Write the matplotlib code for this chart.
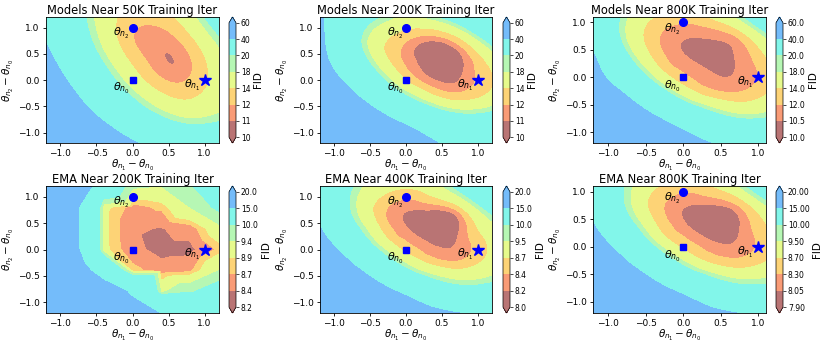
import numpy as np
import matplotlib
matplotlib.use('Agg')
import matplotlib.pyplot as plt
import matplotlib.tri as mtri
from matplotlib.colors import ListedColormap, BoundaryNorm

W, H = 830, 346
band_colors = ['#b97474', '#f99b76', '#fdd376', '#e6fa8c', '#b6f7b4', '#82f6ea', '#74bcfa']

titles = ['Models Near 50K Training Iter', 'Models Near 200K Training Iter', 'Models Near 800K Training Iter',
          'EMA Near 200K Training Iter', 'EMA Near 400K Training Iter', 'EMA Near 800K Training Iter']
levels = [[10, 11, 12, 14, 18, 20, 40, 60],
          [10, 11, 12, 14, 18, 20, 40, 60],
          [10, 10.5, 12, 14, 18, 20, 40, 60],
          [8.2, 8.4, 8.7, 8.9, 9.4, 10, 15, 20],
          [8.0, 8.2, 8.4, 8.7, 9.5, 10, 15, 20],
          [7.9, 8.05, 8.3, 8.7, 9.5, 10, 15, 20]]
fmts = ['%d', '%d', '%.1f', '%.1f', '%.1f', '%.2f']
spans = [(-1.2, 1.2), (-1.2, 1.2), (-1.2, 1.1), (-1.2, 1.2), (-1.2, 1.2), (-1.2, 1.1)]
smooth = [True, True, True, False, True, True]

# FID sampled on the interpolation plane, x = y = grid
# rows go from top (y=1.2) to bottom (y=-1.2), columns x=-1.2..1.2
grid = [-1.2, -0.8, -0.4, 0.0, 0.4, 0.8, 1.2]

fid_models_50k = [
    [35.2, 23.5, 15.9, 12.9, 13.0, 16.5, 24.5],
    [38.9, 25.7, 16.6, 12.1, 11.3, 13.5, 19.5],
    [44.1, 29.9, 19.2, 13.3, 11.1, 11.9, 16.5],
    [50.9, 35.9, 23.8, 15.9, 12.2, 12.2, 15.4],
    [59.7, 43.7, 30.5, 21.0, 15.6, 14.2, 16.3],
    [71.3, 53.9, 40.3, 29.3, 22.2, 19.1, 20.1],
    [86.7, 68.1, 53.0, 41.7, 33.3, 28.8, 28.2],
]
fid_models_200k = [
    [42.0, 27.6, 20.4, 17.3, 19.3, 25.6, 36.3],
    [43.0, 25.3, 15.7, 12.4, 11.5, 14.7, 23.5],
    [45.0, 28.3, 16.5, 11.6, 10.3, 11.0, 15.6],
    [50.2, 36.5, 23.0, 13.9, 11.0, 11.2, 13.7],
    [61.2, 47.0, 34.3, 23.2, 16.2, 14.1, 16.2],
    [75.9, 60.3, 47.7, 37.7, 28.9, 24.6, 24.7],
    [94.4, 77.2, 63.2, 52.4, 41.0, 35.5, 33.0],
]
fid_models_800k = [
    [30.8, 19.9, 14.8, 13.8, 15.9, 22.7, 35.0],
    [31.8, 18.6, 12.7, 10.9, 11.2, 13.8, 22.1],
    [41.0, 22.4, 13.5, 10.6, 9.9, 11.2, 15.3],
    [45.3, 31.4, 18.2, 12.5, 10.7, 11.0, 13.6],
    [54.8, 43.2, 30.0, 19.1, 14.3, 13.3, 15.3],
    [67.2, 54.3, 44.0, 33.8, 25.2, 21.2, 21.9],
    [82.6, 68.3, 56.7, 47.8, 39.5, 36.4, 34.8],
]
fid_ema_200k = [
    [20.0, 20.0, 11.5, 9.50, 9.40, 9.90, 11.0],
    [20.0, 16.0, 9.00, 8.60, 8.75, 9.40, 10.2],
    [20.0, 16.0, 9.00, 8.45, 8.38, 8.55, 9.20],
    [20.0, 16.0, 9.00, 8.50, 8.28, 8.30, 8.75],
    [21.0, 18.0, 12.5, 8.80, 8.55, 8.64, 9.40],
    [22.0, 20.0, 18.0, 14.3, 9.30, 9.90, 10.6],
    [24.0, 22.0, 20.0, 17.0, 14.8, 12.5, 11.5],
]
fid_ema_400k = [
    [13.20, 10.33, 9.03, 8.78, 9.20, 10.94, 14.11],
    [13.53, 10.06, 8.59, 8.25, 8.29, 8.80, 10.81],
    [15.12, 11.12, 8.80, 8.22, 7.96, 8.29, 9.14],
    [16.99, 13.53, 10.06, 8.59, 8.25, 8.29, 8.80],
    [19.69, 16.41, 13.20, 10.33, 9.03, 8.78, 9.20],
    [23.22, 19.57, 16.67, 14.22, 11.95, 10.89, 11.04],
    [27.58, 23.56, 20.28, 17.75, 15.97, 14.91, 14.46],
]
fid_ema_800k = [
    [13.11, 10.21, 8.92, 8.63, 8.95, 10.33, 13.28],
    [13.53, 10.05, 8.54, 8.11, 8.12, 8.58, 10.20],
    [15.15, 11.19, 8.82, 8.10, 7.80, 8.12, 8.88],
    [16.91, 13.64, 10.15, 8.59, 8.14, 8.15, 8.63],
    [19.43, 16.38, 13.31, 10.41, 9.03, 8.73, 9.07],
    [22.70, 19.32, 16.61, 14.29, 11.97, 10.83, 10.86],
    [26.73, 23.00, 19.96, 17.75, 15.91, 14.83, 14.28],
]
fields = [fid_models_50k, fid_models_200k, fid_models_800k, fid_ema_200k, fid_ema_400k, fid_ema_800k]

# the three checkpoints
anchor_x = [0, 1, 0]
anchor_y = [0, 0, 1]
anchor_marker = ['s', '*', 'o']
anchor_size = [5, 9, 5.5]
label_x = [-0.15, 0.83, -0.15]
label_y = [-0.17, -0.1, 0.88]
label_txt = [r'$\theta_{n_0}$', r'$\theta_{n_1}$', r'$\theta_{n_2}$']

cols = [(46, 219), (320, 492), (593, 766)]
cbcols = [(229, 236), (503, 510), (776, 783)]
rows = [(17, 143), (186, 313)]

fig = plt.figure(figsize=(W / 100, H / 100), dpi=100)
g = np.array(grid)
X, Y = np.meshgrid(g, g)
tri = mtri.Triangulation(X.ravel(), Y.ravel())
refiner = mtri.UniformTriRefiner(tri)

for k in range(6):
    r, c = divmod(k, 3)
    x0, x1 = cols[c]
    y0, y1 = rows[r]
    ax = fig.add_axes([x0 / W, 1 - y1 / H, (x1 - x0) / W, (y1 - y0) / H])
    cb0, cb1 = cbcols[c]
    cax = fig.add_axes([cb0 / W, 1 - y1 / H, (cb1 - cb0) / W, (y1 - y0) / H])

    Z = np.array(fields[k], dtype=float)[::-1].ravel()
    if smooth[k]:
        tri_k, z_k = refiner.refine_field(Z, subdiv=4)
    else:
        tri_k, z_k = tri, Z
    cmap = ListedColormap(band_colors).with_extremes(under=band_colors[0], over=band_colors[-1])
    norm = BoundaryNorm(levels[k], cmap.N)
    cs = ax.tricontourf(tri_k, z_k, levels=levels[k], cmap=cmap, norm=norm, extend='both')

    lo, hi = spans[k]
    ax.set_xlim(lo, hi)
    ax.set_ylim(lo, hi)
    for px, py, mk, ms in zip(anchor_x, anchor_y, anchor_marker, anchor_size):
        ax.plot(px, py, mk, color='blue', ms=ms)
    for tx, ty, tt in zip(label_x, label_y, label_txt):
        ax.text(tx, ty, tt, fontsize=8, ha='center', va='center')

    ax.set_xticks([-1, -0.5, 0, 0.5, 1])
    ax.set_yticks([-1, -0.5, 0, 0.5, 1])
    ax.tick_params(labelsize=6.5, length=2.5, width=0.6, pad=2)
    ax.set_xlabel(r'$\theta_{n_1}-\theta_{n_0}$', fontsize=7.5, labelpad=0)
    ax.set_ylabel(r'$\theta_{n_2}-\theta_{n_0}$', fontsize=7.5, labelpad=1)
    ax.set_title(titles[k], fontsize=8.3, pad=1.5)
    for s in ax.spines.values():
        s.set_linewidth(0.6)

    cb = fig.colorbar(cs, cax=cax, ticks=levels[k], format=fmts[k])
    cb.set_label('FID', fontsize=7.5, labelpad=2)
    cb.ax.tick_params(labelsize=5.5, length=2, width=0.5, pad=1.5)
    cb.outline.set_linewidth(0.5)

fig.savefig('out.png', dpi=100)
